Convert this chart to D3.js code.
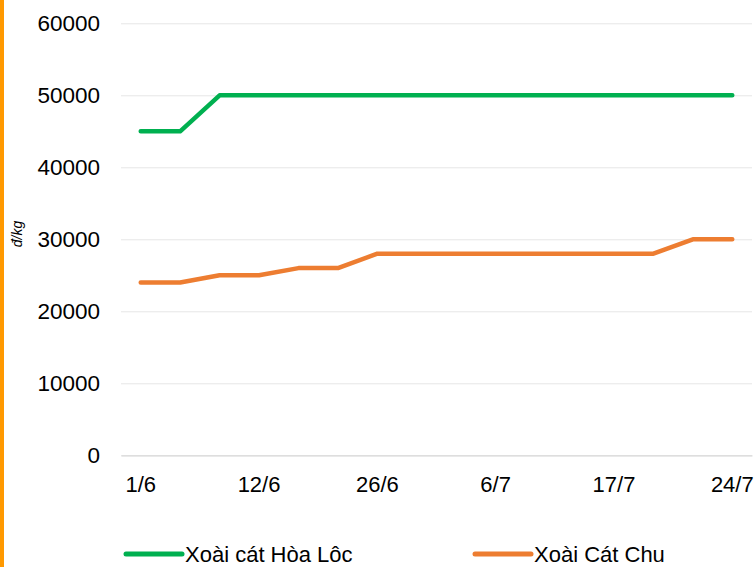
<!DOCTYPE html>
<html>
<head>
<meta charset="utf-8">
<script src="https://cdn.jsdelivr.net/npm/d3@7"></script>
<style>
	body { margin: 0; background: #fff; }
	svg { display: block; font-family: "Liberation Sans", Arial, sans-serif; }
</style>
</head>
<body>
<div class="chart"></div>
<script>
// data
const categories = ['1/6', '5/6', '8/6', '12/6', '15/6', '22/6', '26/6', '29/6',
	'3/7', '6/7', '10/7', '13/7', '17/7', '20/7', '22/7', '24/7'];
const hoaLoc = [45000, 45000, 50000, 50000, 50000, 50000, 50000, 50000,
	50000, 50000, 50000, 50000, 50000, 50000, 50000, 50000];
const catChu = [24000, 24000, 25000, 25000, 26000, 26000, 28000, 28000,
	28000, 28000, 28000, 28000, 28000, 28000, 30000, 30000];
const xTickLabels = ['1/6', '12/6', '26/6', '6/7', '17/7', '24/7'];
const yTicks = [0, 10000, 20000, 30000, 40000, 50000, 60000];
const seriesNames = ['Xoài cát Hòa Lôc', 'Xoài Cát Chu'];
const seriesColors = ['#00B050', '#ED7D31'];

const W = 756, H = 567;
const plot = { left: 121, right: 752, top: 23.3, bottom: 455.3 };

const svg = d3.select('.chart')
	.append('svg')
		.attr('width', W)
		.attr('height', H);

// orange strip on the left edge
svg.append('rect')
	.attr('x', 0).attr('y', 0)
	.attr('width', 4).attr('height', H)
	.attr('fill', '#FF9900');

const xScale = d3.scaleBand()
	.domain(categories)
	.range([plot.left, plot.right])
	.padding(0);

const yScale = d3.scaleLinear()
	.domain([0, 60000])
	.range([plot.bottom, plot.top]);

const xc = d => xScale(d) + xScale.bandwidth() / 2;

// gridlines
svg.append('g')
	.attr('transform', `translate(${plot.left}, 0)`)
	.call(d3.axisLeft(yScale).tickValues(yTicks).tickSize(-(plot.right - plot.left)).tickFormat(''))
	.call(g => g.select('.domain').remove())
	.call(g => g.selectAll('line').attr('stroke', '#e6e6e6').attr('stroke-width', 1));

// y axis labels
svg.append('g')
	.attr('transform', `translate(${plot.left}, 0)`)
	.call(d3.axisLeft(yScale).tickValues(yTicks).tickSize(0).tickPadding(21).tickFormat(d3.format('d')))
	.call(g => g.select('.domain').remove())
	.call(g => g.selectAll('text')
		.attr('fill', '#000')
		.style('font-size', '22.5px')
		.style('font-family', '"Liberation Sans", Arial, sans-serif'));

// x axis
svg.append('g')
	.attr('transform', `translate(0, ${plot.bottom})`)
	.call(d3.axisBottom(xScale).tickValues(xTickLabels).tickSize(0).tickPadding(21))
	.call(g => g.select('.domain').attr('stroke', '#d9d9d9').attr('stroke-width', 1.2))
	.call(g => g.selectAll('text')
		.attr('fill', '#000')
		.style('font-size', '22px')
		.style('font-family', '"Liberation Sans", Arial, sans-serif'));

// axis title
svg.append('text')
	.attr('transform', `translate(22, 234) rotate(-90)`)
	.style('text-anchor', 'middle')
	.style('font-size', '14px')
	.style('font-style', 'italic')
	.attr('fill', '#000')
	.text('đ/kg');

// lines
const line = d3.line()
	.x((d, i) => xc(categories[i]))
	.y(d => yScale(d));

[hoaLoc, catChu].forEach((values, k) => {
	svg.append('path')
		.datum(values)
		.attr('fill', 'none')
		.attr('stroke', seriesColors[k])
		.attr('stroke-width', 4.5)
		.attr('stroke-linecap', 'round')
		.attr('stroke-linejoin', 'round')
		.attr('d', line);
});

// legend
const legendX = [126, 475];
const legend = svg.selectAll('.legend')
	.data(seriesNames)
	.enter()
	.append('g')
	.attr('class', 'legend')
	.attr('transform', (d, i) => `translate(${legendX[i]}, 554)`);

legend.append('line')
	.attr('x1', 0).attr('x2', 56)
	.attr('y1', 0).attr('y2', 0)
	.attr('stroke', (d, i) => seriesColors[i])
	.attr('stroke-width', 5)
	.attr('stroke-linecap', 'round');

legend.append('text')
	.attr('x', 59)
	.attr('y', 7.5)
	.style('font-size', '22px')
	.attr('fill', '#000')
	.text(d => d);
</script>
</body>
</html>
